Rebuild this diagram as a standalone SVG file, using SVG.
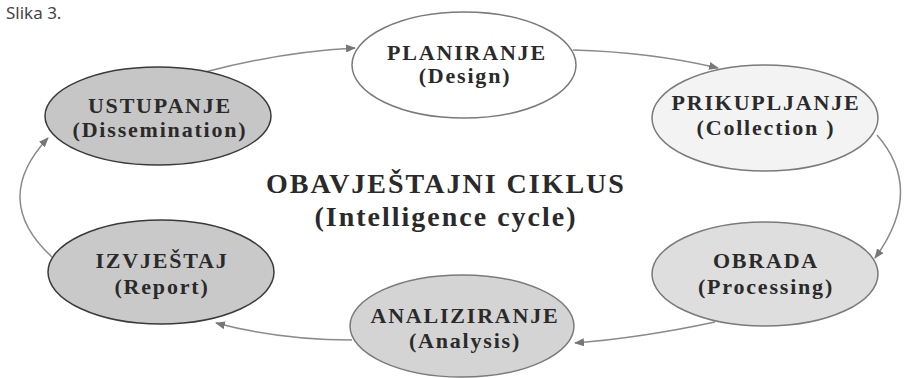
<svg xmlns="http://www.w3.org/2000/svg" width="907" height="378" viewBox="0 0 907 378">
<defs>
<marker id="arr" markerWidth="10" markerHeight="8" refX="9" refY="4" orient="auto" markerUnits="userSpaceOnUse">
<path d="M0,0 L10,4 L0,8 Z" fill="#777"/>
</marker>
<style>
.node{stroke:#7a7a7a;stroke-width:1.5}
.dark{stroke:#3a3a3a}
.lbl{font-family:"Liberation Serif",serif;font-weight:bold;font-size:22px;fill:#2a2a2a;text-anchor:middle;letter-spacing:1.8px}
.title{font-family:"Liberation Serif",serif;font-weight:bold;font-size:28px;fill:#2a2a2a;text-anchor:middle;letter-spacing:2px}
.conn{fill:none;stroke:#8a8a8a;stroke-width:1.5;marker-end:url(#arr)}
</style>
</defs>
<rect width="907" height="378" fill="#fff"/>
<text x="6" y="19" font-family="Noto Sans, sans-serif" font-size="17" fill="#444">Slika 3.</text>
<g id="connectors">
<path class="conn" d="M205,72 Q280,52 355,48"/>
<path class="conn" d="M573,50 Q650,52 718,68"/>
<path class="conn" d="M877,135 Q925,190 875,258"/>
<path class="conn" d="M715,322 Q640,338 575,343"/>
<path class="conn" d="M352,340 Q280,340 216,323"/>
<path class="conn" d="M52,257 Q-10,200 48,138"/>
</g>
<g id="planiranje">
<ellipse class="node" cx="464" cy="65" rx="112" ry="53" fill="#ffffff"/>
<text class="lbl" x="467" y="60">PLANIRANJE</text>
<text class="lbl" x="465" y="83">(Design)</text>
</g>
<g id="prikupljanje">
<ellipse class="node" cx="765" cy="118" rx="113" ry="53" fill="#f3f3f3"/>
<text class="lbl" x="766" y="110">PRIKUPLJANJE</text>
<text class="lbl" x="766" y="135">(Collection )</text>
</g>
<g id="obrada">
<ellipse class="node" cx="765" cy="274" rx="113" ry="52" fill="#dedede"/>
<text class="lbl" x="766" y="268">OBRADA</text>
<text class="lbl" x="766" y="294">(Processing)</text>
</g>
<g id="analiziranje">
<ellipse class="node" cx="462" cy="326" rx="112" ry="51" fill="#d4d4d4"/>
<text class="lbl" x="465" y="323">ANALIZIRANJE</text>
<text class="lbl" x="465" y="348">(Analysis)</text>
</g>
<g id="izvjestaj">
<ellipse class="node dark" cx="161" cy="272" rx="113" ry="52" fill="#c9c9c9"/>
<text class="lbl" x="162" y="268">IZVJEŠTAJ</text>
<text class="lbl" x="162" y="294">(Report)</text>
</g>
<g id="ustupanje">
<ellipse class="node dark" cx="158" cy="116" rx="113" ry="49" fill="#c6c6c6"/>
<text class="lbl" x="160" y="113">USTUPANJE</text>
<text class="lbl" x="160" y="137">(Dissemination)</text>
</g>
<g id="title">
<text class="title" x="446" y="193">OBAVJEŠTAJNI CIKLUS</text>
<text class="title" x="446" y="226">(Intelligence cycle)</text>
</g>
</svg>
